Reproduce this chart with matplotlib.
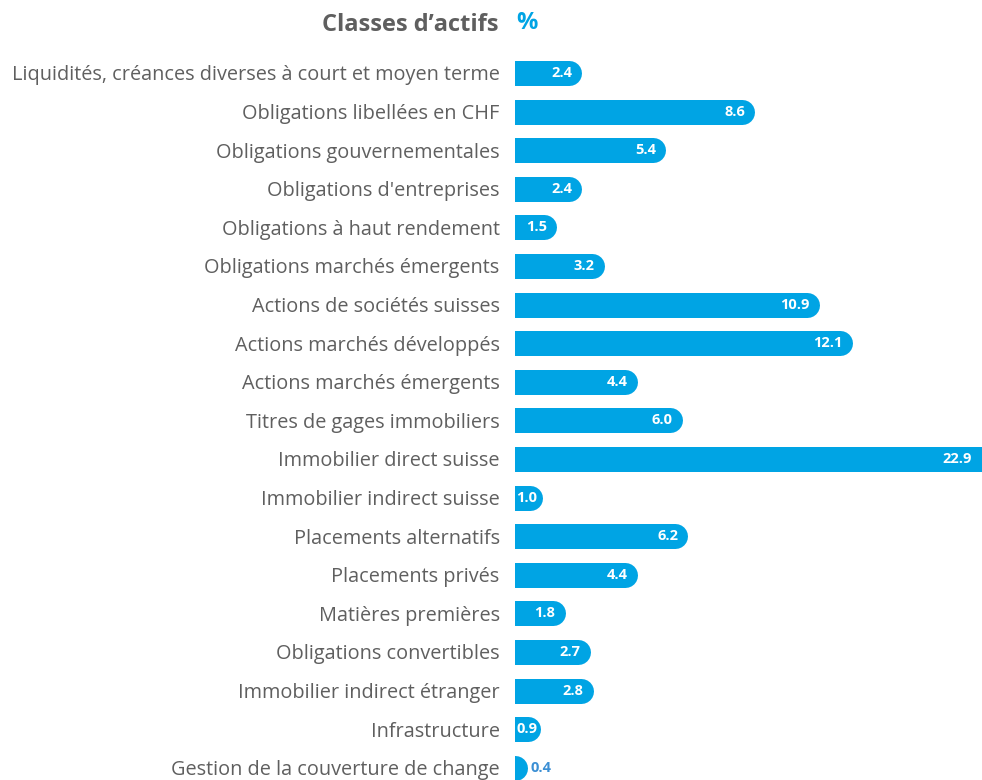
import matplotlib
matplotlib.use('Agg')
import matplotlib.pyplot as plt

plt.rcParams['font.family'] = ['Open Sans', 'DejaVu Sans']

categories = [
    'Liquidités, créances diverses à court et moyen terme',
    'Obligations libellées en CHF',
    'Obligations gouvernementales',
    "Obligations d'entreprises",
    'Obligations à haut rendement',
    'Obligations marchés émergents',
    'Actions de sociétés suisses',
    'Actions marchés développés',
    'Actions marchés émergents',
    'Titres de gages immobiliers',
    'Immobilier direct suisse',
    'Immobilier indirect suisse',
    'Placements alternatifs',
    'Placements privés',
    'Matières premières',
    'Obligations convertibles',
    'Immobilier indirect étranger',
    'Infrastructure',
    'Gestion de la couverture de change',
]
values = [2.4, 8.6, 5.4, 2.4, 1.5, 3.2, 10.9, 12.1, 4.4, 6.0,
          22.9, 1.0, 6.2, 4.4, 1.8, 2.7, 2.8, 0.9, 0.4]

BLUE = '#00a4e4'
GREY = '#5f5f5f'

W, H, DPI = 982, 780, 100
fig = plt.figure(figsize=(W / DPI, H / DPI), dpi=DPI)

# axes from bar origin (x=515px) to right edge
px_per_unit = 27.9
left_px, top_px = 515, 54
ax = fig.add_axes([left_px / W, 0, (W - left_px) / W, (H - top_px) / H])
xmax = (W - left_px) / px_per_unit
ax.set_xlim(0, xmax)
row0, step = 73, 38.6
ax.set_ylim((H - row0) / step, (top_px - row0) / step)

bar_h_px = 25
lw_pt = bar_h_px * 72 / DPI
r_units = bar_h_px / 2 / px_per_unit

for i, v in enumerate(values):
    # thick line with round caps -> bar with rounded right end (left cap clipped)
    ax.plot([0, v - r_units], [i, i], color=BLUE, lw=lw_pt,
            solid_capstyle='round', clip_on=True)
    txt = f'{v:.1f}'
    if v < 0.5:
        ax.annotate(txt, (v, i), xytext=(3, 0), textcoords='offset points',
                    ha='left', va='center', color='#3b8fd4', fontsize=10.5,
                    fontweight='bold')
    elif v <= 1.0:
        ax.annotate(txt, (0, i), xytext=(1, 0), textcoords='offset points',
                    ha='left', va='center', color='white', fontsize=10.5,
                    fontweight='bold')
    else:
        ax.annotate(txt, (min(v, xmax), i), xytext=(-7, 0),
                    textcoords='offset points', ha='right', va='center',
                    color='white', fontsize=10.5, fontweight='bold')

ax.set_yticks(range(len(categories)))
ax.set_yticklabels(categories, fontsize=14.3, color=GREY)
ax.tick_params(axis='y', length=0, pad=11)
ax.set_xticks([])
for s in ax.spines.values():
    s.set_visible(False)

fig.text(499 / W, 1 - 25 / H, 'Classes d\u2019actifs', ha='right', va='center',
         fontsize=17, fontweight='bold', color=GREY)
fig.text(516 / W, 1 - 23 / H, '%', ha='left', va='center',
         fontsize=17, fontweight='bold', color=BLUE)

fig.savefig('out.png', dpi=DPI)
